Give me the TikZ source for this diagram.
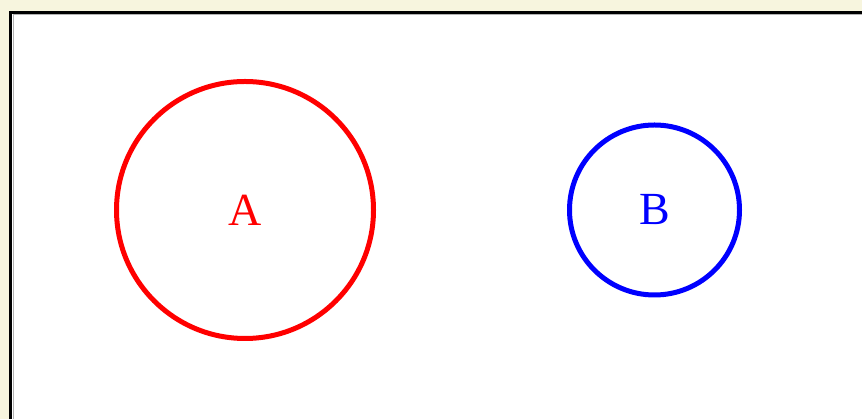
\documentclass[tikz,border=0pt]{standalone}
\usepackage{fontspec}
\setmainfont{Liberation Serif}
\usepackage{xcolor}
\usetikzlibrary{shapes,positioning}

\definecolor{paper}{HTML}{F7F5DE}
\definecolor{setred}{HTML}{FF0000}
\definecolor{setblue}{HTML}{0000FF}

\begin{document}
\begin{tikzpicture}[x=1pt,y=1pt,
    setcircle/.style={circle,line width=5pt,inner sep=0pt,font=\fontsize{46}{52}\selectfont}]
    \useasboundingbox (0,0) rectangle (862,419);

    % Background and frame
    \fill[paper] (0,0) rectangle (862,419);
    \fill[white] (10.5,-10) rectangle (875,406.5);
    \draw[gray!60,line width=1pt] (13,-10) -- (13,404) -- (875,404);
    \draw[black,line width=3pt] (10.5,-10) -- (10.5,406.5) -- (875,406.5);

    % Set A
    \node[setcircle,draw=setred,text=setred,minimum size=257pt] (setA) at (245,209) {A};

    % Set B
    \node[setcircle,draw=setblue,text=setblue,minimum size=170pt] (setB) at (654.5,209) {\raisebox{-6pt}{B}};
\end{tikzpicture}
\end{document}
